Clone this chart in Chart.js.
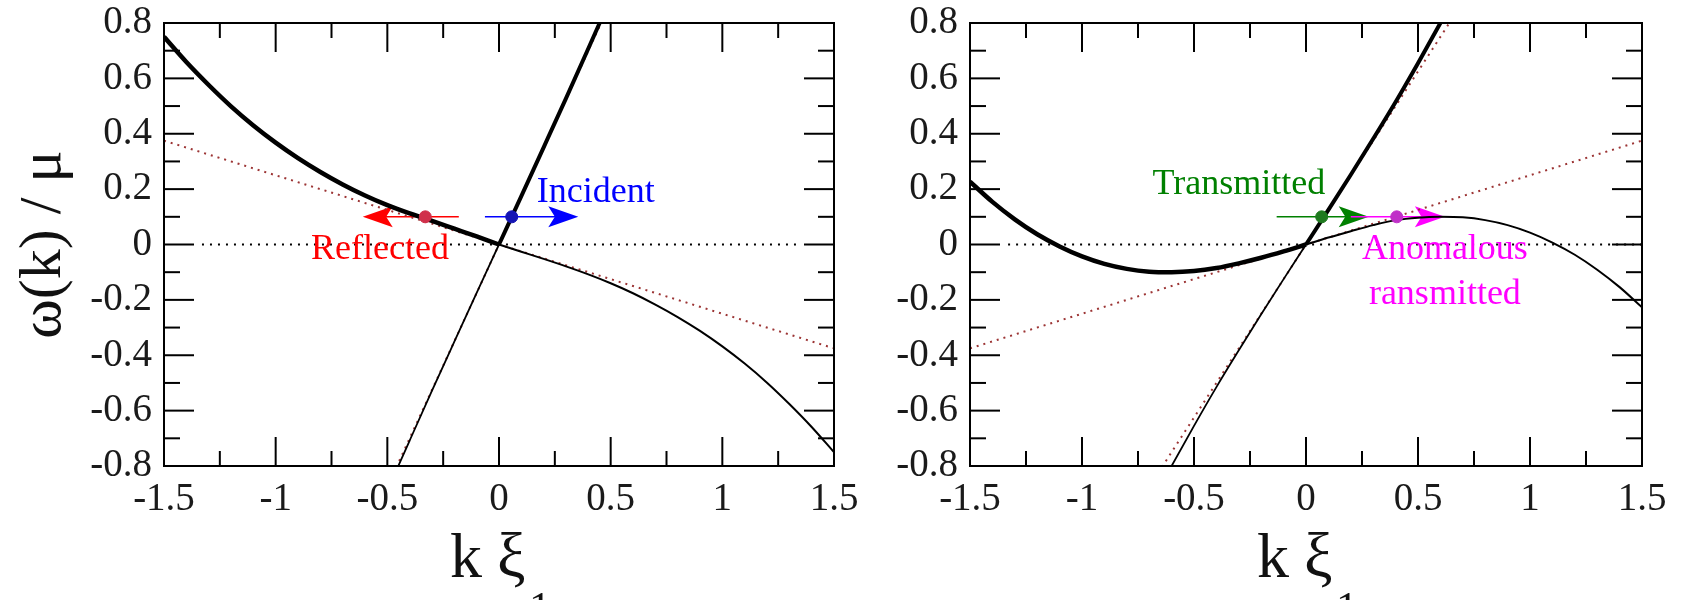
<!DOCTYPE html>
<html>
<head>
<meta charset="utf-8">
<title>Dispersion relations ω(k)</title>
<script src="https://cdn.jsdelivr.net/npm/chart.js@4.4.1/dist/chart.umd.min.js"></script>
<style>
  html, body { margin: 0; padding: 0; background: #fff; }
  #wrap { position: relative; width: 1681px; height: 600px; overflow: hidden; background: #fff; }
  .panel { position: absolute; top: 0; height: 600px; }
</style>
</head>
<body>
<div id="wrap">
  <div class="panel" style="left:0;width:869px"><canvas id="sub" width="869" height="600"></canvas></div>
  <div class="panel" style="left:869px;width:812px"><canvas id="sup" width="812" height="600"></canvas></div>
</div>
<script>
// ---- wavevector grids (k ξ1) ----
const kNeg = [-1.5, -1.4, -1.3, -1.2, -1.1, -1.0, -0.9, -0.8, -0.7, -0.6, -0.5, -0.4, -0.3, -0.2, -0.1, 0];
const kPos = [0, 0.1, 0.2, 0.3, 0.4, 0.5, 0.6, 0.7, 0.8, 0.9, 1.0, 1.1, 1.2, 1.3, 1.4, 1.5];

// ---- subsonic region: ω(k)/μ ----
const subUpperBranch = [0.75, 0.659, 0.576, 0.499, 0.430, 0.368, 0.312, 0.262, 0.217, 0.177, 0.142, 0.112, 0.085, 0.057, 0.029, 0];
const subLowerBranch = [0, -0.026, -0.052, -0.079, -0.108, -0.140, -0.176, -0.217, -0.262, -0.312, -0.368, -0.430, -0.499, -0.576, -0.659, -0.75];
const kSubFastUp = [0, 0.1, 0.2, 0.3, 0.4, 0.47];
const subFastUp = [0, 0.175, 0.351, 0.528, 0.708, 0.835];
const kSubFastDown = [-0.47, -0.4, -0.3, -0.2, -0.1, 0];
const subFastDown = [-0.835, -0.708, -0.528, -0.351, -0.175, 0];
const kSlowSound = [-1.5, 1.5];
const subSlowSound = [0.375, -0.375];
const kSubFastSound = [-0.46, 0.46];
const subFastSound = [-0.805, 0.805];
const kZeroSub = [-1.33, 1.33];

// ---- supersonic region: ω(k)/μ ----
const supUpperBranch = [0.227, 0.154, 0.091, 0.037, -0.007, -0.043, -0.070, -0.088, -0.098, -0.100, -0.096, -0.085, -0.068, -0.048, -0.025, 0];
const supLowerBranch = [0, 0.025, 0.048, 0.070, 0.088, 0.097, 0.100, 0.098, 0.088, 0.070, 0.043, 0.007, -0.037, -0.091, -0.154, -0.227];
const kSupFastUp = [0, 0.1, 0.2, 0.3, 0.4, 0.5, 0.6, 0.65];
const supFastUp = [0, 0.125, 0.252, 0.382, 0.515, 0.655, 0.800, 0.875];
const kSupFastDown = [-0.65, -0.6, -0.5, -0.4, -0.3, -0.2, -0.1, 0];
const supFastDown = [-0.875, -0.800, -0.655, -0.515, -0.382, -0.252, -0.125, 0];
const supSlowSound = [-0.375, 0.375];
const kSupFastSound = [-0.66, 0.66];
const supFastSound = [-0.825, 0.825];
const kZeroSup = [-1.33, 1.5];
const zeroLevel = [0, 0];

// ---- scattering modes at ω/μ = 0.1 ----
const subModeNames = ['Reflected', 'Incident'];
const subModeK = [-0.33, 0.057];
const subModeW = [0.1, 0.1];
const subArrowFrom = [-0.18, -0.063];
const subArrowTo = [-0.61, 0.355];
const supModeNames = ['Transmitted', 'Anomalous', 'ransmitted'];
const supModeK = [0.07, 0.405];
const supModeW = [0.1, 0.1];
const supArrowFrom = [-0.131, 0.2];
const supArrowTo = [0.28, 0.62];

// ---- axis ticks ----
const xTickValues = [-1.5, -1, -0.5, 0, 0.5, 1, 1.5];
const xTickLabels = ['-1.5', '-1', '-0.5', '0', '0.5', '1', '1.5'];
const yTickValues = [-0.8, -0.6, -0.4, -0.2, 0, 0.2, 0.4, 0.6, 0.8];
const yTickLabels = ['-0.8', '-0.6', '-0.4', '-0.2', '0', '0.2', '0.4', '0.6', '0.8'];

const SERIF = '"Liberation Serif", "Times New Roman", Times, serif';
const pointsOf = (xs, ys) => xs.map((x, i) => ({ x: x, y: ys[i] }));

function curve(xs, ys, width) {
  return {
    data: pointsOf(xs, ys), borderColor: '#000', borderWidth: width,
    pointRadius: 0, cubicInterpolationMode: 'monotone', fill: false, clip: 0
  };
}
function dotted(xs, ys, color, dash) {
  return {
    data: pointsOf(xs, ys), borderColor: color, borderWidth: 2, borderDash: dash,
    pointRadius: 0, tension: 0, fill: false, clip: 0
  };
}
function modes(xs, ys, colors) {
  return {
    data: pointsOf(xs, ys), showLine: false, pointRadius: 6, pointHoverRadius: 6,
    pointBackgroundColor: colors, pointBorderColor: colors, pointBorderWidth: 1, clip: 0
  };
}

function drawArrow(ctx, x0, x1, y, color) {
  const dir = Math.sign(x1 - x0), L = 30, H = 10.5;
  ctx.strokeStyle = color;
  ctx.lineWidth = 1.5;
  ctx.beginPath();
  ctx.moveTo(x0, y);
  ctx.lineTo(x1 - dir * L * 0.7, y);
  ctx.stroke();
  ctx.fillStyle = color;
  ctx.beginPath();
  ctx.moveTo(x1, y);
  ctx.lineTo(x1 - dir * L, y - H);
  ctx.lineTo(x1 - dir * L * 0.78, y);
  ctx.lineTo(x1 - dir * L, y + H);
  ctx.closePath();
  ctx.fill();
}

// frame with inward ticks on all four sides, arrows, annotations and axis titles
function makeDecor(s) {
  return {
    id: 'decor',
    beforeDatasetsDraw(chart) {
      const { ctx, chartArea: a, scales: { x, y } } = chart;
      ctx.save();
      ctx.beginPath(); ctx.rect(a.left, a.top, a.width, a.height); ctx.clip();
      s.arrows.forEach(ar => drawArrow(ctx, x.getPixelForValue(ar.from), x.getPixelForValue(ar.to), y.getPixelForValue(ar.level), ar.color));
      ctx.restore();
    },
    afterDatasetsDraw(chart) {
      const { ctx, chartArea: a, scales: { x, y } } = chart;
      ctx.save();
      ctx.strokeStyle = '#000';
      ctx.lineWidth = 2;
      ctx.strokeRect(a.left, a.top, a.width, a.height);
      const seg = (x0, y0, x1, y1) => { ctx.beginPath(); ctx.moveTo(x0, y0); ctx.lineTo(x1, y1); ctx.stroke(); };
      const xt = x.ticks.map(t => t.value);
      xt.forEach((v, i) => {
        const px = x.getPixelForValue(v);
        seg(px, a.bottom, px, a.bottom - 29); seg(px, a.top, px, a.top + 29);
        if (i < xt.length - 1) {
          const pm = x.getPixelForValue((v + xt[i + 1]) / 2);
          seg(pm, a.bottom, pm, a.bottom - 15); seg(pm, a.top, pm, a.top + 15);
        }
      });
      const yt = y.ticks.map(t => t.value);
      yt.forEach((v, i) => {
        const py = y.getPixelForValue(v);
        seg(a.left, py, a.left + 30, py); seg(a.right, py, a.right - 30, py);
        if (i < yt.length - 1) {
          const pm = y.getPixelForValue((v + yt[i + 1]) / 2);
          seg(a.left, pm, a.left + 16, pm); seg(a.right, pm, a.right - 16, pm);
        }
      });
      ctx.font = '36px ' + SERIF;
      ctx.textBaseline = 'alphabetic';
      s.notes.forEach(n => {
        ctx.fillStyle = n.color;
        ctx.textAlign = n.align;
        ctx.fillText(n.text, x.getPixelForValue(n.k), y.getPixelForValue(n.w));
      });
      ctx.restore();
    },
    afterDraw(chart) {
      const { ctx, chartArea: a } = chart;
      ctx.save();
      ctx.fillStyle = '#111';
      ctx.textBaseline = 'alphabetic';
      ctx.textAlign = 'left';
      // x title: k ξ with subscript 1
      const kx = (a.left + a.right) / 2 - 49;
      ctx.font = '64px ' + SERIF;
      ctx.fillText('k', kx, 577);
      ctx.fillText('ξ', kx + 47, 577);
      ctx.font = '44px ' + SERIF;
      ctx.fillText('1', kx + 79, 622);
      if (s.yTitle) {
        ctx.translate(60, (a.top + a.bottom) / 2);
        ctx.rotate(-Math.PI / 2);
        ctx.textAlign = 'center';
        ctx.font = '60px ' + SERIF;
        ctx.fillText(s.yTitle, 0, 0);
      }
      ctx.restore();
    }
  };
}

function makePanel(id, datasets, yAxisWidth, rightPad, decor) {
  const tickFont = { family: SERIF, size: 39 };
  return new Chart(document.getElementById(id), {
    type: 'line',
    data: { datasets: datasets },
    options: {
      responsive: false, animation: false, devicePixelRatio: 1, events: [],
      layout: { padding: { left: 0, right: rightPad, top: 23, bottom: 0 } },
      plugins: { legend: { display: false }, tooltip: { enabled: false } },
      scales: {
        x: {
          type: 'linear', min: -1.5, max: 1.5,
          grid: { display: false, drawTicks: false }, border: { display: false },
          afterBuildTicks: s => { s.ticks = xTickValues.map(v => ({ value: v })); },
          afterFit: s => { s.height = 134; s.paddingLeft = 0; s.paddingRight = 0; },
          ticks: { autoSkip: false, maxRotation: 0, padding: 10, color: '#1a1a1a', font: tickFont,
                   callback: (v, i) => xTickLabels[i] }
        },
        y: {
          type: 'linear', min: -0.8, max: 0.8,
          grid: { display: false, drawTicks: false }, border: { display: false },
          afterBuildTicks: s => { s.ticks = yTickValues.map(v => ({ value: v })); },
          afterFit: s => { s.width = yAxisWidth; s.paddingTop = 0; s.paddingBottom = 0; },
          ticks: { autoSkip: false, padding: 12, color: '#1a1a1a', font: tickFont,
                   callback: (v, i) => yTickLabels[i] }
        }
      }
    },
    plugins: [makeDecor(decor)]
  });
}

const RED_DOTS = '#9c3434';

// subsonic panel
makePanel('sub', [
  modes(subModeK, subModeW, ['#d0304a', '#1414b4']),
  curve(kNeg, subUpperBranch, 4.5),
  curve(kSubFastUp, subFastUp, 4),
  curve(kPos, subLowerBranch, 2),
  curve(kSubFastDown, subFastDown, 1.8),
  dotted(kSlowSound, subSlowSound, RED_DOTS, [2, 5]),
  dotted(kSubFastSound, subFastSound, RED_DOTS, [2, 5]),
  dotted(kZeroSub, zeroLevel, '#000', [2, 6])
], 164, 35, {
  yTitle: 'ω(k) / μ',
  arrows: [
    { from: subArrowFrom[0], to: subArrowTo[0], level: subModeW[0], color: '#ff0000' },
    { from: subArrowFrom[1], to: subArrowTo[1], level: subModeW[1], color: '#0000ff' }
  ],
  notes: [
    { text: subModeNames[0], k: -0.533, w: -0.053, color: '#ff0000', align: 'center' },
    { text: subModeNames[1], k: 0.169, w: 0.152, color: '#0000ff', align: 'left' }
  ]
});

// supersonic panel
makePanel('sup', [
  modes(supModeK, supModeW, ['#1f7a1f', '#c030c8']),
  curve(kNeg, supUpperBranch, 4.5),
  curve(kSupFastUp, supFastUp, 4),
  curve(kPos, supLowerBranch, 2),
  curve(kSupFastDown, supFastDown, 1.8),
  dotted(kSlowSound, supSlowSound, RED_DOTS, [2, 5]),
  dotted(kSupFastSound, supFastSound, RED_DOTS, [2, 5]),
  dotted(kZeroSup, zeroLevel, '#000', [2, 6])
], 101, 39, {
  yTitle: null,
  arrows: [
    { from: supArrowFrom[0], to: supArrowTo[0], level: supModeW[0], color: '#008000' },
    { from: supArrowFrom[1], to: supArrowTo[1], level: supModeW[1], color: '#ff00ff' }
  ],
  notes: [
    { text: supModeNames[0], k: -0.685, w: 0.181, color: '#008000', align: 'left' },
    { text: supModeNames[1], k: 0.62, w: -0.053, color: '#ff00ff', align: 'center' },
    { text: supModeNames[2], k: 0.62, w: -0.214, color: '#ff00ff', align: 'center' }
  ]
});
</script>
</body>
</html>
